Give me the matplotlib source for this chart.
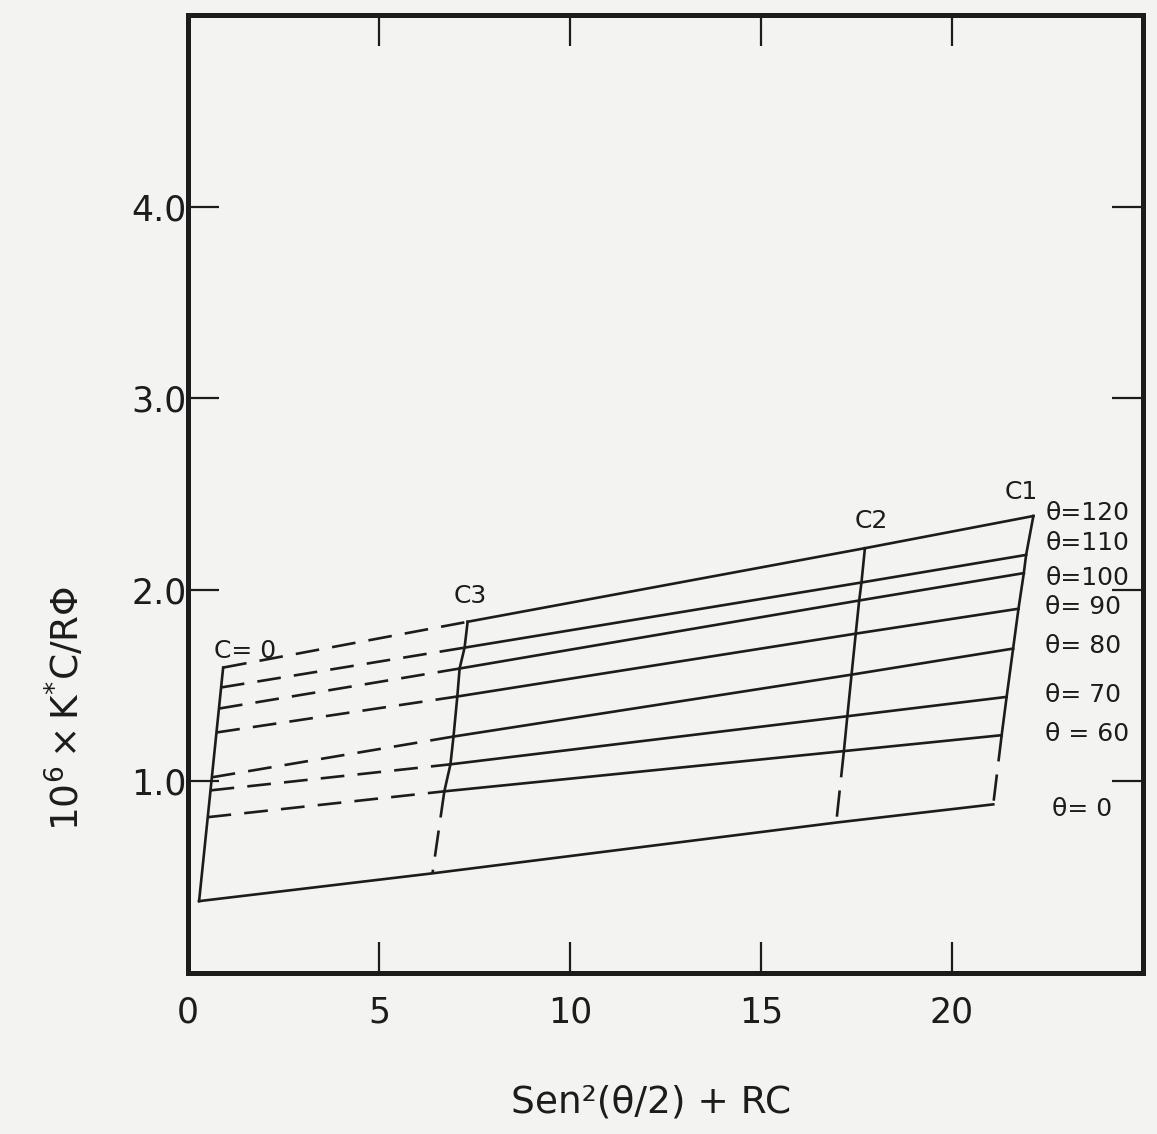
import matplotlib
matplotlib.use('Agg')
import matplotlib.pyplot as plt

# Zimm plot
thetas = [120, 110, 100, 90, 80, 70, 60]
theta_names = ['θ=120', 'θ=110', 'θ=100', 'θ= 90', 'θ= 80', 'θ= 70', 'θ = 60']

# c = 0 extrapolated points (one per angle)
x_c0 = [0.92, 0.86, 0.81, 0.74, 0.62, 0.59, 0.51]
y_c0 = [1.594, 1.490, 1.380, 1.255, 1.021, 0.953, 0.813]
# concentration c3
x_c3 = [7.32, 7.24, 7.11, 7.05, 6.95, 6.87, 6.71]
y_c3 = [1.833, 1.698, 1.589, 1.443, 1.234, 1.089, 0.948]
# concentration c2
x_c2 = [17.72, 17.63, 17.57, 17.48, 17.37, 17.26, 17.17]
y_c2 = [2.217, 2.038, 1.944, 1.771, 1.557, 1.340, 1.158]
# concentration c1
x_c1 = [22.13, 21.94, 21.88, 21.74, 21.60, 21.43, 21.30]
y_c1 = [2.385, 2.182, 2.087, 1.901, 1.693, 1.441, 1.241]

# theta = 0 extrapolated points: c=0, c3, c2, c1
x_t0 = [0.29, 6.40, 16.97, 21.08]
y_t0 = [0.375, 0.52, 0.785, 0.88]

ink = '#1c1c1c'
lw = 1.9

fig = plt.figure(figsize=(11.57, 11.34), dpi=100, facecolor='#f3f3f1')
ax = fig.add_axes([0.1625, 0.142, 0.8254, 0.8448])
ax.set_facecolor('#f3f3f1')

# angle lines: dashed c=0 -> c3, solid c3 -> c2 -> c1
for i in range(len(thetas)):
    ax.plot([x_c0[i], x_c3[i]], [y_c0[i], y_c3[i]], color=ink, lw=lw,
            dashes=(9, 5), solid_capstyle='butt')
    ax.plot([x_c3[i], x_c2[i], x_c1[i]], [y_c3[i], y_c2[i], y_c1[i]],
            color=ink, lw=lw)

# theta = 0 line
ax.plot(x_t0, y_t0, color=ink, lw=lw)

# c = 0 line (solid, from theta=0 point up to theta=120)
ax.plot([x_t0[0], x_c0[0]], [y_t0[0], y_c0[0]], color=ink, lw=lw)

# constant concentration lines, solid over data, dashed to theta=0
for xs, ys, k in [(x_c3, y_c3, 1), (x_c2, y_c2, 2), (x_c1, y_c1, 3)]:
    ax.plot(xs, ys, color=ink, lw=lw)
    ax.plot([xs[-1], x_t0[k]], [ys[-1], y_t0[k]], color=ink, lw=lw,
            dashes=(10, 5))

# labels
fs_small = 18
ax.text(0.68, 1.68, 'C= 0', fontsize=fs_small, ha='left', va='center', color=ink)
ax.text(7.39, 1.97, 'C3', fontsize=fs_small, ha='center', va='center', color=ink)
ax.text(17.88, 2.36, 'C2', fontsize=fs_small, ha='center', va='center', color=ink)
ax.text(21.81, 2.51, 'C1', fontsize=fs_small, ha='center', va='center', color=ink)

label_y = [2.401, 2.245, 2.063, 1.911, 1.708, 1.453, 1.245]
for name, yy in zip(theta_names, label_y):
    ax.text(22.44, yy, name, fontsize=18, ha='left', va='center', color=ink)
ax.text(22.63, 0.854, 'θ= 0', fontsize=18, ha='left', va='center', color=ink)

ax.set_xlim(0, 25.0)
ax.set_ylim(0, 5.0)
ax.set_xticks([0, 5, 10, 15, 20])
ax.set_xticklabels(['0', '5', '10', '15', '20'])
ax.set_yticks([1, 2, 3, 4])
ax.set_yticklabels(['1.0', '2.0', '3.0', '4.0'])

ax.tick_params(axis='both', direction='in', length=22, width=1.6, colors=ink,
               top=True, right=True, labelsize=25)
ax.tick_params(axis='x', pad=16)
ax.tick_params(axis='y', pad=1)
for sp in ax.spines.values():
    sp.set_linewidth(3.6)
    sp.set_color(ink)

fig.text(651 / 1157, 1 - 1103 / 1134, 'Sen²(θ/2) + RC', fontsize=27,
         ha='center', va='center', color=ink)
fig.text(66 / 1157, 1 - 709 / 1134, r'$\mathregular{10^6\times K^{*}C/R\Phi}$',
         fontsize=27, rotation=90, ha='center', va='center', color=ink)

fig.savefig('out.png', dpi=100, facecolor=fig.get_facecolor())
